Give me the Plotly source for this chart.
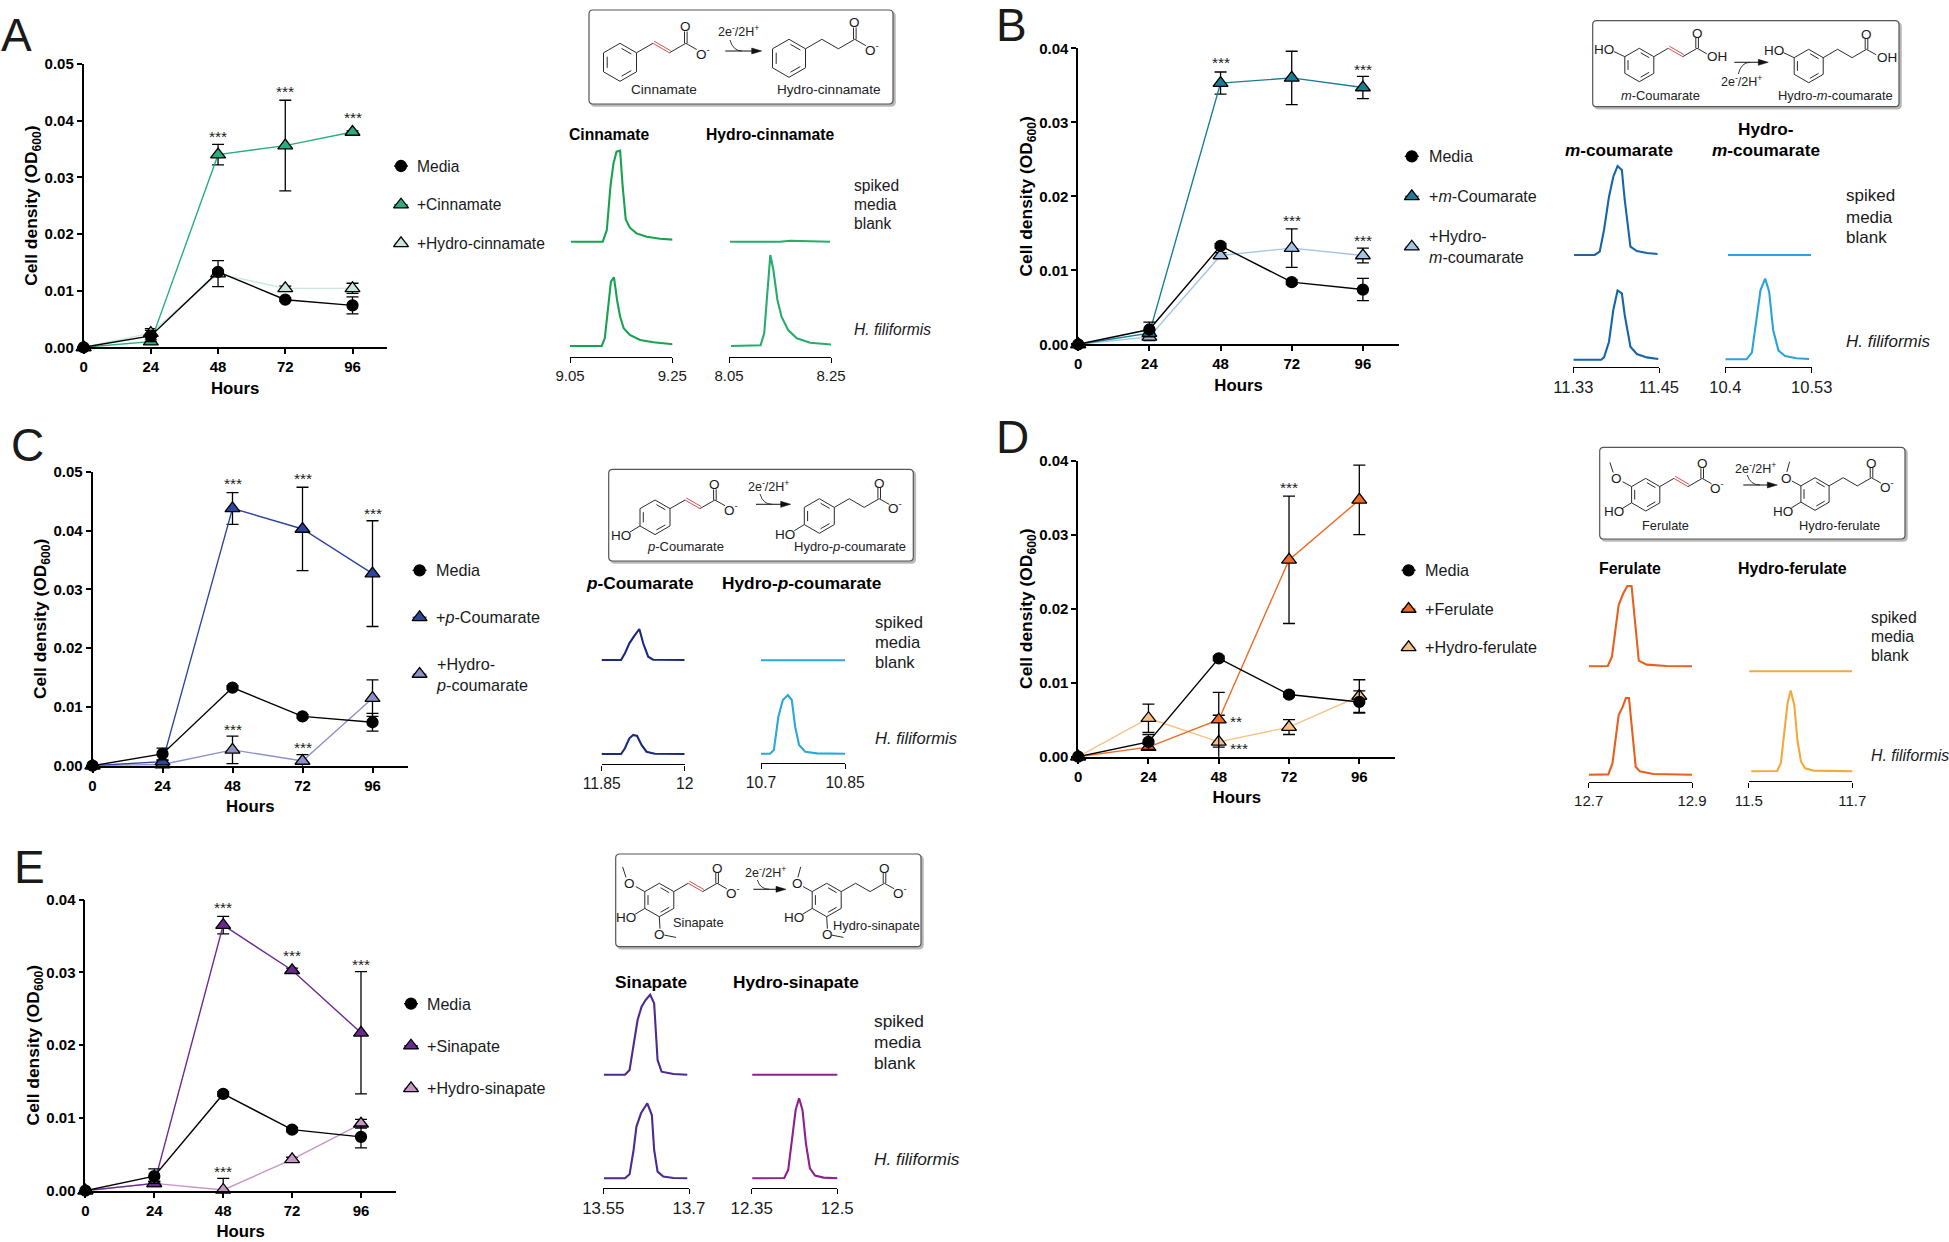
"""Growth curves and extracted-ion chromatograms for five hydroxycinnamate substrates."""

import math

import plotly.graph_objects as go

W, H = 1949, 1242
FONT = "Liberation Sans"
INK = "#1a1a1a"

HOURS = [0, 24, 48, 72, 96]
Y_TICKS_05 = [0.0, 0.01, 0.02, 0.03, 0.04, 0.05]
Y_TICKS_04 = [0.0, 0.01, 0.02, 0.03, 0.04]

MEDIA = [0.0, 0.002, 0.0133, 0.0084, 0.0074]
MEDIA_ERR = [0.0, 0.001, 0.0003, 0.0003, 0.0015]

CINNAMATE = [0.0, 0.001, 0.034, 0.0356, 0.038]
CINNAMATE_ERR = [0.0, 0.0003, 0.0018, 0.008, 0.0002]
HYDRO_CINNAMATE = [0.0, 0.0025, 0.013, 0.0104, 0.0104]
HYDRO_CINNAMATE_ERR = [0.0, 0.0008, 0.0023, 0.0004, 0.0009]

M_COUMARATE = [0.0, 0.0015, 0.0353, 0.036, 0.0347]
M_COUMARATE_ERR = [0.0, 0.0004, 0.0015, 0.0036, 0.0015]
HYDRO_M_COUMARATE = [0.0, 0.001, 0.012, 0.013, 0.012]
HYDRO_M_COUMARATE_ERR = [0.0, 0.0005, 0.0004, 0.0026, 0.001]

P_COUMARATE = [0.0, 0.0007, 0.0438, 0.0403, 0.0327]
P_COUMARATE_ERR = [0.0, 0.0002, 0.0027, 0.0071, 0.009]
HYDRO_P_COUMARATE = [0.0, 0.0002, 0.0027, 0.0008, 0.0115]
HYDRO_P_COUMARATE_ERR = [0.0, 0.0002, 0.00235, 0.0011, 0.0031]

FERULATE = [0.0, 0.0013, 0.005, 0.0266, 0.0347]
FERULATE_ERR = [0.0, 0.0004, 0.0037, 0.0086, 0.0047]
HYDRO_FERULATE = [0.0, 0.0052, 0.002, 0.004, 0.0082]
HYDRO_FERULATE_ERR = [0.0, 0.0019, 0.0036, 0.001, 0.0022]

SINAPATE = [0.0, 0.001, 0.0365, 0.0303, 0.0217]
SINAPATE_ERR = [0.0, 0.0003, 0.0012, 0.0003, 0.0084]
HYDRO_SINAPATE = [0.0, 0.001, 0.0001, 0.0043, 0.0092]
HYDRO_SINAPATE_ERR = [0.0, 0.0002, 0.0016, 0.0003, 0.0006]

# significance marks: hour, OD at the mark, label
STARS_A = [(48, 0.0374, "***"), (72, 0.0453, "***"), (96, 0.0407, "***")]
STARS_B = [(48, 0.0382, "***"), (72, 0.0407, "***"), (96, 0.0373, "***"), (72, 0.0169, "***"), (96, 0.0142, "***")]
STARS_C = [(48, 0.0482, "***"), (72, 0.049, "***"), (96, 0.0431, "***"), (48, 0.00636, "***"), (72, 0.0032, "***")]
STARS_D = [(96, 0.0406, "***"), (72, 0.0365, "***"), (54, 0.00495, "**"), (55, 0.0013, "***")]
STARS_E = [(48, 0.0391, "***"), (72, 0.0324, "***"), (96, 0.03125, "***"), (48, 0.00284, "***")]

# chromatograms: retention time (min) and peak height above baseline
A1_SPIKED_RT = [9.052, 9.114, 9.122, 9.129, 9.135, 9.141, 9.148, 9.153, 9.159, 9.167, 9.180, 9.200, 9.226, 9.254]
A1_SPIKED = [0, 0, 11.7, 55, 78.3, 90, 91, 55, 22.3, 14, 8.3, 5, 3, 2]
A1_HF_RT = [9.047, 9.112, 9.118, 9.125, 9.130, 9.136, 9.142, 9.148, 9.155, 9.167, 9.187, 9.213, 9.252]
A1_HF = [0, 0, 7.7, 39.3, 64.3, 68.7, 46, 29.3, 17.7, 11, 6, 3.7, 1.7]
A2_SPIKED_RT = [8.052, 8.098, 8.150, 8.170, 8.202, 8.248]
A2_SPIKED = [0, 0.3, 0, 1, 0.3, 0]
A2_HF_RT = [8.054, 8.112, 8.119, 8.125, 8.131, 8.137, 8.145, 8.153, 8.166, 8.183, 8.209, 8.253]
A2_HF = [0, 0.7, 12.7, 56, 91, 76, 46, 29.3, 16, 7.7, 3.3, 1.3]

B1_SPIKED_RT = [11.331, 11.360, 11.367, 11.373, 11.380, 11.386, 11.392, 11.398, 11.402, 11.410, 11.419, 11.433, 11.448]
B1_SPIKED = [0, 0, 3.3, 25, 58.3, 78.3, 89, 85, 55, 8.3, 4, 2, 1]
B1_HF_RT = [11.33, 11.369, 11.373, 11.380, 11.386, 11.392, 11.398, 11.402, 11.410, 11.419, 11.433, 11.449]
B1_HF = [0, 0, 2.3, 18, 49.7, 69.3, 66.3, 44.7, 13, 5.7, 2.3, 0.7]
B2_SPIKED_RT = [10.404, 10.465, 10.529]
B2_SPIKED = [0, 0, 0]
B2_HF_RT = [10.4, 10.432, 10.44, 10.447, 10.453, 10.46, 10.466, 10.472, 10.48, 10.49, 10.507, 10.526]
B2_HF = [0, 0, 6.7, 42.7, 69.3, 80.7, 67.7, 29.3, 8.7, 3.3, 1, 0.3]

C1_SPIKED_RT = [11.849, 11.885, 11.892, 11.9, 11.908, 11.918, 11.925, 11.934, 11.943, 12.0]
C1_SPIKED = [0, 0, 6.7, 16.7, 23.3, 31, 16.7, 3.3, 0.3, 0]
C1_HF_RT = [11.849, 11.885, 11.892, 11.9, 11.907, 11.914, 11.922, 11.931, 11.946, 12.0]
C1_HF = [0, 0, 5.7, 15.7, 19, 18, 9, 2.3, 0.3, 0]
C2_SPIKED_RT = [10.697, 10.77, 10.85]
C2_SPIKED = [0, 0, 0]
C2_HF_RT = [10.697, 10.716, 10.723, 10.731, 10.739, 10.748, 10.755, 10.761, 10.768, 10.779, 10.8, 10.85]
C2_HF = [0, 0, 3.7, 37, 53.7, 58.7, 53.7, 27, 8.7, 2, 0.3, 0]

D1_SPIKED_RT = [12.7, 12.737, 12.745, 12.751, 12.758, 12.767, 12.775, 12.783, 12.79, 12.797, 12.812, 12.851, 12.9]
D1_SPIKED = [0, 0.3, 9.7, 36.3, 61.3, 73, 80.3, 80.3, 39.7, 5.7, 1.7, 0.3, 0]
D1_HF_RT = [12.7, 12.738, 12.746, 12.752, 12.758, 12.766, 12.772, 12.778, 12.784, 12.791, 12.799, 12.825, 12.9]
D1_HF = [0, 0.3, 11.3, 34.7, 59.7, 68, 76.7, 76.7, 48, 8, 3.3, 0.7, 0]
D2_SPIKED_RT = [11.501, 11.6, 11.7]
D2_SPIKED = [0, 0, 0]
D2_HF_RT = [11.505, 11.555, 11.562, 11.569, 11.575, 11.581, 11.588, 11.594, 11.601, 11.609, 11.625, 11.702]
D2_HF = [0, 0.3, 8, 41.3, 68, 80.7, 66.3, 31.3, 9.7, 3, 0.7, 0]

E1_SPIKED_RT = [13.551, 13.588, 13.596, 13.603, 13.61, 13.617, 13.624, 13.632, 13.639, 13.645, 13.652, 13.673, 13.697]
E1_SPIKED = [0, 0, 4.7, 28, 54.7, 68, 74.7, 80, 71.3, 14.7, 3, 0.7, 0]
E1_HF_RT = [13.551, 13.588, 13.596, 13.603, 13.608, 13.616, 13.627, 13.635, 13.639, 13.645, 13.655, 13.673, 13.697]
E1_HF = [0, 0, 4, 28.3, 51.7, 65, 75, 63.3, 28.3, 6.7, 1.7, 0.3, 0]
E2_SPIKED_RT = [12.351, 12.425, 12.502]
E2_SPIKED = [0, 0, 0]
E2_HF_RT = [12.351, 12.407, 12.414, 12.42, 12.427, 12.433, 12.439, 12.445, 12.452, 12.461, 12.476, 12.501]
E2_HF = [0, 0.3, 8.3, 35, 68.3, 80, 68.3, 35, 10, 2.7, 0.7, 0]

PANELS = [
    dict(
        letter="A", letter_xy=(0, 35),
        axis=dict(x0=83.6, x96=352.5, x_end=386.8, y_top=64, y_zero=347.3, y_max=0.05, ticks=Y_TICKS_05),
        stars=STARS_A,
        hydro=(HYDRO_CINNAMATE, HYDRO_CINNAMATE_ERR, "#c9e7de"),
        main=(CINNAMATE, CINNAMATE_ERR, "#2bae7e"),
        key_x=401, key_ys=[166, 204.7, 243.3], label_x=416, legend_size=15.6,
        labels=["Media", "+Cinnamate", "+Hydro-cinnamate"],
        columns=[
            dict(title="Cinnamate", title_xy=(609, 134), span=(570, 672.3), bar_y=357, rng=(9.05, 9.25),
                 ticks=["9.05", "9.25"], color="#16a24f",
                 traces=[(A1_SPIKED_RT, A1_SPIKED, 241.7), (A1_HF_RT, A1_HF, 346)]),
            dict(title="Hydro-cinnamate", title_xy=(770, 134), span=(729, 831), bar_y=357, rng=(8.05, 8.25),
                 ticks=["8.05", "8.25"], color="#27ad6b",
                 traces=[(A2_SPIKED_RT, A2_SPIKED, 241.7), (A2_HF_RT, A2_HF, 346)]),
        ],
        header_size=15.7, tick_size=15, row_size=15.6,
        row_x=852.7, row_ys=[185, 204, 223], hf_y=329,
        box=(589, 10, 893, 104),
        mols=[dict(c=(620, 62.3), r=19, reduced=False, tail="O<sup>-</sup>", subs=[]),
              dict(c=(789, 58.3), r=19, reduced=True, tail="O<sup>-</sup>", subs=[])],
        names=[("Cinnamate", 664, 89), ("Hydro-cinnamate", 828.7, 89)], name_size=13.6,
        arrow=((725.3, 51), (761.7, 51), (730, 40), (742, 51)), arrow_text=(738, 31),
    ),
    dict(
        letter="B", letter_xy=(995, 25),
        axis=dict(x0=1078.2, x96=1362.9, x_end=1398.9, y_top=48.3, y_zero=344.3, y_max=0.04, ticks=Y_TICKS_04),
        stars=STARS_B,
        hydro=(HYDRO_M_COUMARATE, HYDRO_M_COUMARATE_ERR, "#a2c4e6"),
        main=(M_COUMARATE, M_COUMARATE_ERR, "#1a7d96"),
        key_x=1411.8, key_ys=[156.3, 196.3, 246.7], label_x=1427.5, legend_size=16.1,
        labels=["Media", "+<i>m</i>-Coumarate", "+Hydro-<br><i>m</i>-coumarate"],
        columns=[
            dict(title="<i>m</i>-coumarate", title_xy=(1619.3, 150.3), span=(1573.3, 1659), bar_y=366.7,
                 rng=(11.33, 11.45), ticks=["11.33", "11.45"], color="#1565a8",
                 traces=[(B1_SPIKED_RT, B1_SPIKED, 255), (B1_HF_RT, B1_HF, 359.7)]),
            dict(title="<i>m</i>-coumarate", title_xy=(1765.7, 150.3), span=(1725.3, 1811.7), bar_y=366.7,
                 rng=(10.4, 10.53), ticks=["10.4", "10.53"], color="#2aa3dc",
                 traces=[(B2_SPIKED_RT, B2_SPIKED, 255), (B2_HF_RT, B2_HF, 359.3)]),
        ],
        extra_header=("Hydro-", 1765.7, 129.3),
        header_size=17.2, tick_size=16.5, row_size=17,
        row_x=1844.7, row_ys=[195.7, 217, 237.7], hf_y=341.7,
        box=(1592.7, 20.7, 1899, 106.7),
        mols=[dict(c=(1639.3, 65), r=16.7, reduced=False, tail="OH", subs=["m_oh"]),
              dict(c=(1808.7, 66), r=16.7, reduced=True, tail="OH", subs=["m_oh"])],
        names=[("<i>m</i>-Coumarate", 1660.7, 95.7), ("Hydro-<i>m</i>-coumarate", 1835.7, 95.7)], name_size=12.9,
        arrow=((1734.3, 62.3), (1768.3, 62.3), (1738.3, 74), (1750, 62.3)), arrow_text=(1741.7, 81),
    ),
    dict(
        letter="C", letter_xy=(10, 445),
        axis=dict(x0=92.5, x96=372.5, x_end=408.2, y_top=472, y_zero=765.7, y_max=0.05, ticks=Y_TICKS_05),
        stars=STARS_C,
        hydro=(HYDRO_P_COUMARATE, HYDRO_P_COUMARATE_ERR, "#8e91c8"),
        main=(P_COUMARATE, P_COUMARATE_ERR, "#2e459f"),
        key_x=419.6, key_ys=[570.3, 617.3, 674], label_x=435, legend_size=16.2,
        labels=["Media", "+<i>p</i>-Coumarate", "+Hydro-<br><i>p</i>-coumarate"],
        columns=[
            dict(title="<i>p</i>-Coumarate", title_xy=(640.3, 583.3), span=(601.7, 684.7), bar_y=764.3,
                 rng=(11.85, 12.0), ticks=["11.85", "12"], color="#1c2a7e",
                 traces=[(C1_SPIKED_RT, C1_SPIKED, 660), (C1_HF_RT, C1_HF, 754)]),
            dict(title="Hydro-<i>p</i>-coumarate", title_xy=(802.3, 583.3), span=(761, 845), bar_y=762.7,
                 rng=(10.7, 10.85), ticks=["10.7", "10.85"], color="#2aa8dc",
                 traces=[(C2_SPIKED_RT, C2_SPIKED, 660.3), (C2_HF_RT, C2_HF, 753.7)]),
        ],
        header_size=17.3, tick_size=15.7, row_size=16.6,
        row_x=874.3, row_ys=[622, 642, 662.3], hf_y=738.7,
        box=(608.7, 469.3, 913.3, 561),
        mols=[dict(c=(655, 517.3), r=17.3, reduced=False, tail="O<sup>-</sup>", subs=["p_oh"]),
              dict(c=(819.3, 516), r=17.3, reduced=True, tail="O<sup>-</sup>", subs=["p_oh"])],
        names=[("<i>p</i>-Coumarate", 685.7, 546.7), ("Hydro-<i>p</i>-coumarate", 850, 546.7)], name_size=13,
        arrow=((756, 504.3), (790.7, 504.3), (760, 494), (772, 504.3)), arrow_text=(768.3, 486),
    ),
    dict(
        letter="D", letter_xy=(995, 437),
        axis=dict(x0=1078.2, x96=1359.3, x_end=1395.4, y_top=460.7, y_zero=756.7, y_max=0.04, ticks=Y_TICKS_04),
        stars=STARS_D,
        hydro=(HYDRO_FERULATE, HYDRO_FERULATE_ERR, "#f8c184"),
        main=(FERULATE, FERULATE_ERR, "#ee6a25"),
        key_x=1408.6, key_ys=[570.3, 609, 647.3], label_x=1424.3, legend_size=16.2,
        labels=["Media", "+Ferulate", "+Hydro-ferulate"],
        columns=[
            dict(title="Ferulate", title_xy=(1630, 568.7), span=(1588.7, 1692), bar_y=781.7,
                 rng=(12.7, 12.9), ticks=["12.7", "12.9"], color="#e8601c",
                 traces=[(D1_SPIKED_RT, D1_SPIKED, 666.3), (D1_HF_RT, D1_HF, 774.7)]),
            dict(title="Hydro-ferulate", title_xy=(1792.3, 568.7), span=(1748.7, 1852.3), bar_y=781.3,
                 rng=(11.5, 11.7), ticks=["11.5", "11.7"], color="#f3a93c",
                 traces=[(D2_SPIKED_RT, D2_SPIKED, 671.3), (D2_HF_RT, D2_HF, 771.3)]),
        ],
        header_size=15.9, tick_size=15, row_size=15.8,
        row_x=1870, row_ys=[617, 636.3, 655.7], hf_y=755.7,
        box=(1599.7, 447.3, 1905, 539),
        mols=[dict(c=(1645.7, 494.7), r=16.3, reduced=False, tail="O<sup>-</sup>", subs=["p_oh", "ome_l"]),
              dict(c=(1815, 494), r=16.3, reduced=True, tail="O<sup>-</sup>", subs=["p_oh", "ome_r"])],
        names=[("Ferulate", 1665.7, 525), ("Hydro-ferulate", 1839.3, 525)], name_size=12.8,
        arrow=((1743.3, 485), (1777.3, 485), (1747.3, 475), (1760, 485)), arrow_text=(1755, 467.7),
    ),
    dict(
        letter="E", letter_xy=(13, 867),
        axis=dict(x0=85.4, x96=361, x_end=396, y_top=899.7, y_zero=1190.7, y_max=0.04, ticks=Y_TICKS_04),
        stars=STARS_E,
        hydro=(HYDRO_SINAPATE, HYDRO_SINAPATE_ERR, "#c795c8"),
        main=(SINAPATE, SINAPATE_ERR, "#6a2a8e"),
        key_x=411, key_ys=[1003.7, 1045.7, 1088.3], label_x=426.4, legend_size=16.1,
        labels=["Media", "+Sinapate", "+Hydro-sinapate"],
        columns=[
            dict(title="Sinapate", title_xy=(650.7, 981.7), span=(603.3, 689), bar_y=1187.7,
                 rng=(13.55, 13.7), ticks=["13.55", "13.7"], color="#4b2a91",
                 traces=[(E1_SPIKED_RT, E1_SPIKED, 1074.7), (E1_HF_RT, E1_HF, 1178.3)]),
            dict(title="Hydro-sinapate", title_xy=(796, 981.7), span=(751.7, 837.3), bar_y=1187.7,
                 rng=(12.35, 12.5), ticks=["12.35", "12.5"], color="#8f1f8f",
                 traces=[(E2_SPIKED_RT, E2_SPIKED, 1074.7), (E2_HF_RT, E2_HF, 1178.3)]),
        ],
        header_size=17.3, tick_size=16.9, row_size=17.3,
        row_x=873.3, row_ys=[1021, 1042, 1062.7], hf_y=1159,
        box=(615.7, 854, 921, 946.7),
        mols=[dict(c=(659.3, 900), r=16.7, reduced=False, tail="O<sup>-</sup>", subs=["p_oh", "ome_l", "ome_b"]),
              dict(c=(826.7, 900), r=16.7, reduced=True, tail="O<sup>-</sup>", subs=["p_oh", "ome_r", "ome_b"])],
        names=[("Sinapate", 698.3, 922.3), ("Hydro-sinapate", 876.7, 925)], name_size=12.8,
        arrow=((753.3, 889.3), (786, 889.3), (757.3, 880), (769.3, 889.3)), arrow_text=(765, 872.3),
    ),
]

PIX_X, PIX_Y = "x16", "y16"

fig = go.Figure()
annotations = []
shapes = []


def note(text, x, y, size, anchor="center", color=INK, weight=None, style=None):
    font = dict(family=FONT, size=size, color=color)
    if weight:
        font["weight"] = weight
    if style:
        font["style"] = style
    annotations.append(dict(
        text=text, x=x, y=y, xref=PIX_X, yref=PIX_Y, xanchor=anchor, yanchor="middle", showarrow=False,
        align=anchor, font=font, borderpad=0,
    ))


def seg(p, q):
    return f"M{p[0]:.1f},{p[1]:.1f}L{q[0]:.1f},{q[1]:.1f}"


def add_path(d, color="#2b2b2b", width=1.0, fill=None):
    shapes.append(dict(
        type="path", path=d, xref=PIX_X, yref=PIX_Y, layer="above",
        line=dict(color=color, width=width), fillcolor=fill or "rgba(0,0,0,0)",
    ))


def rounded_box(x0, y0, x1, y1, rad=4):
    return (f"M{x0 + rad},{y0}L{x1 - rad},{y0}Q{x1},{y0} {x1},{y0 + rad}L{x1},{y1 - rad}Q{x1},{y1} {x1 - rad},{y1}"
            f"L{x0 + rad},{y1}Q{x0},{y1} {x0},{y1 - rad}L{x0},{y0 + rad}Q{x0},{y0} {x0 + rad},{y0}Z")


def draw_molecule(c, r, reduced, tail, subs):
    """Skeletal formula: phenyl ring, propanoate tail, ring substituents."""
    cx, cy = c
    verts = [(cx + r * math.cos(math.radians(a)), cy - r * math.sin(math.radians(a)))
             for a in (30, 90, 150, 210, 270, 330)]
    d = "".join(seg(verts[i], verts[(i + 1) % 6]) for i in range(6))
    for i, j in ((0, 1), (2, 3), (4, 5)):
        a = (cx + (verts[i][0] - cx) * 0.78, cy + (verts[i][1] - cy) * 0.78)
        b = (cx + (verts[j][0] - cx) * 0.78, cy + (verts[j][1] - cy) * 0.78)
        a2 = (a[0] + (b[0] - a[0]) * 0.12, a[1] + (b[1] - a[1]) * 0.12)
        b2 = (b[0] - (b[0] - a[0]) * 0.12, b[1] - (b[1] - a[1]) * 0.12)
        d += seg(a2, b2)

    dx, dy = 0.866 * r, 0.5 * r
    p0 = verts[0]
    p1 = (p0[0] + dx, p0[1] - dy)
    p2 = (p1[0] + dx, p1[1] + dy)
    p3 = (p2[0] + dx, p2[1] - dy)
    d += seg(p0, p1) + seg(p2, p3)
    if reduced:
        d += seg(p1, p2)
    else:
        red = seg(p1, p2) + seg((p1[0] + 1.2, p1[1] - 2.1), (p2[0] + 1.2, p2[1] - 2.1))
        add_path(red, color="#d8504e", width=1.0)
    for off in (-1.3, 1.3):
        d += seg((p3[0] + off, p3[1]), (p3[0] + off, p3[1] - 0.62 * r))
    d += seg(p3, (p3[0] + 0.58 * r, p3[1] + 0.33 * r))
    note("O", p3[0], p3[1] - 0.9 * r, 13.5)
    note(tail, p3[0] + (1.2 if tail == "OH" else 0.93) * r, p3[1] + 0.5 * r, 13.5)

    for sub in subs:
        if sub == "p_oh":
            v = verts[3]
            d += seg(v, (v[0] - 0.58 * r, v[1] + 0.35 * r))
            note("HO", v[0] - 1.1 * r, v[1] + 0.56 * r, 13.5)
        elif sub == "m_oh":
            v = verts[2]
            d += seg(v, (v[0] - 0.65 * r, v[1] - 0.3 * r))
            note("HO", v[0] - 1.23 * r, v[1] - 0.44 * r, 13.5)
        elif sub in ("ome_l", "ome_r"):
            v = verts[2]
            ox, oy = v[0] - 0.91 * r, v[1] - 0.48 * r
            d += seg(v, (v[0] - 0.55 * r, v[1] - 0.3 * r))
            if sub == "ome_l":
                d += seg((ox - 0.22 * r, oy - 0.38 * r), (ox - 0.42 * r, oy - 1.0 * r))
            else:
                d += seg((ox + 0.05 * r, oy - 0.38 * r), (ox + 0.22 * r, oy - 1.0 * r))
            note("O", ox, oy, 13.5)
        elif sub == "ome_b":
            v = verts[4]
            ox, oy = v[0] + 0.04 * r, v[1] + 1.04 * r
            d += seg(v, (v[0] + 0.04 * r, v[1] + 0.72 * r))
            d += seg((ox + 0.26 * r, oy + 0.06 * r), (ox + 0.96 * r, oy + 0.2 * r))
            note("O", ox, oy, 13.5)
    add_path(d)


axis_no = 0
layout_axes = {}

for panel in PANELS:
    # growth curve axes
    axis_no += 1
    g = panel["axis"]
    xa, ya = f"x{axis_no}", f"y{axis_no}"
    x_max = 96 * (g["x_end"] - g["x0"]) / (g["x96"] - g["x0"])
    layout_axes[f"xaxis{axis_no}"] = dict(
        domain=[g["x0"] / W, g["x_end"] / W], range=[0, x_max], anchor=ya,
        tickmode="array", tickvals=HOURS, ticktext=[str(h) for h in HOURS],
        showline=True, linecolor="black", linewidth=1.7, ticks="outside", ticklen=5, tickwidth=1.7, tickcolor="black",
        showgrid=False, zeroline=False, tickfont=dict(family=FONT, size=15, weight=700, color="black"),
        title=dict(text="Hours", font=dict(family=FONT, size=16.8, weight=700, color="black"), standoff=8),
    )
    layout_axes[f"yaxis{axis_no}"] = dict(
        domain=[1 - g["y_zero"] / H, 1 - g["y_top"] / H], range=[0, g["y_max"]], anchor=xa,
        tickmode="array", tickvals=g["ticks"], ticktext=[f"{t:.2f}" for t in g["ticks"]],
        showline=True, linecolor="black", linewidth=1.7, ticks="outside", ticklen=5, tickwidth=1.7, tickcolor="black",
        showgrid=False, zeroline=False, tickfont=dict(family=FONT, size=15, weight=700, color="black"),
        title=dict(text="Cell density (OD<sub>600</sub>)", font=dict(family=FONT, size=17.4, weight=700, color="black"),
                   standoff=2),
    )

    series = [
        (panel["labels"][2], *panel["hydro"], "triangle-up"),
        (panel["labels"][1], *panel["main"], "triangle-up"),
        (panel["labels"][0], MEDIA, MEDIA_ERR, "black", "circle"),
    ]
    for name, values, err, color, symbol in series:
        fig.add_trace(go.Scatter(
            x=HOURS, y=values, mode="lines+markers", name=name.replace("<br>", " "), xaxis=xa, yaxis=ya,
            cliponaxis=False, line=dict(color=color, width=1.4),
            marker=dict(symbol=symbol, size=11 if symbol == "circle" else 13, color=color,
                        line=dict(color="black", width=1.3)),
            error_y=dict(type="data", array=err, visible=True, color="black", thickness=1.3, width=6),
            showlegend=False,
        ))

    for hour, value, label in panel["stars"]:
        annotations.append(dict(
            text=label, x=hour, y=value, xref=xa, yref=ya, xanchor="center", yanchor="middle", showarrow=False,
            yshift=-1, font=dict(family=FONT, size=15.5, color=INK),
        ))

    # hand-placed legend: short key stub plus marker, then the label
    key_styles = [("black", "circle", 11), (panel["main"][2], "triangle-up", 13), (panel["hydro"][2], "triangle-up", 13)]
    for (color, symbol, size), ky, label in zip(key_styles, panel["key_ys"], panel["labels"]):
        fig.add_trace(go.Scatter(
            x=[panel["key_x"] - 7, panel["key_x"] + 7], y=[ky, ky], mode="lines", xaxis=PIX_X, yaxis=PIX_Y,
            line=dict(color=color, width=1.4), showlegend=False, hoverinfo="skip",
        ))
        fig.add_trace(go.Scatter(
            x=[panel["key_x"]], y=[ky], mode="markers", xaxis=PIX_X, yaxis=PIX_Y, showlegend=False, hoverinfo="skip",
            marker=dict(symbol=symbol, size=size, color=color, line=dict(color="black", width=1.3)),
        ))
        note(label, panel["label_x"], ky, panel["legend_size"], anchor="left")

    note(panel["letter"], *panel["letter_xy"], 46, anchor="left")

    # chromatogram columns: y axis runs 1 unit per pixel above the scale bar
    for col in panel["columns"]:
        axis_no += 1
        xa, ya = f"x{axis_no}", f"y{axis_no}"
        tall = 250
        layout_axes[f"xaxis{axis_no}"] = dict(
            domain=[col["span"][0] / W, col["span"][1] / W], range=list(col["rng"]), anchor=ya,
            tickmode="array", tickvals=list(col["rng"]), ticktext=col["ticks"],
            showline=True, linecolor="black", linewidth=1.4, ticks="outside", ticklen=5, tickwidth=1.4,
            tickcolor="black", showgrid=False, zeroline=False,
            tickfont=dict(family=FONT, size=panel["tick_size"], color=INK),
        )
        layout_axes[f"yaxis{axis_no}"] = dict(
            domain=[1 - col["bar_y"] / H, 1 - (col["bar_y"] - tall) / H], range=[0, tall], anchor=xa,
            visible=False,
        )
        for rt, height, baseline in col["traces"]:
            fig.add_trace(go.Scatter(
                x=rt, y=[h + col["bar_y"] - baseline for h in height], mode="lines", xaxis=xa, yaxis=ya,
                cliponaxis=False, line=dict(color=col["color"], width=2.1), showlegend=False,
            ))
        note(col["title"], *col["title_xy"], panel["header_size"], color="black", weight=700)

    if "extra_header" in panel:
        text, ex, ey = panel["extra_header"]
        note(text, ex, ey, panel["header_size"], color="black", weight=700)

    for word, ry in zip(("spiked", "media", "blank"), panel["row_ys"]):
        note(word, panel["row_x"], ry, panel["row_size"], anchor="left")
    note("H. filiformis", panel["row_x"], panel["hf_y"], panel["row_size"], anchor="left", style="italic")

    # reaction scheme box
    bx0, by0, bx1, by1 = panel["box"]
    add_path(rounded_box(bx0 + 2, by0 + 2, bx1 + 2, by1 + 2), color="#b9b9b9", width=1.6, fill="#b9b9b9")
    add_path(rounded_box(bx0, by0, bx1, by1), color="#555555", width=1.2, fill="white")
    for mol in panel["mols"]:
        draw_molecule(mol["c"], mol["r"], mol["reduced"], mol["tail"], mol["subs"])
    for text, nx, ny in panel["names"]:
        note(text, nx, ny, panel["name_size"], color="#222222")
    start, end, c0, c1 = panel["arrow"]
    add_path(seg(start, (end[0] - 8, end[1])), color="#222222", width=1.1)
    add_path(f"M{end[0] - 10},{end[1] - 3}L{end[0]},{end[1]}L{end[0] - 10},{end[1] + 3}Z", color="#111111", width=0.5,
             fill="#111111")
    add_path(f"M{c0[0]},{c0[1]}Q{c0[0] + 3},{c1[1]} {c1[0]},{c1[1]}", color="#222222", width=0.9)
    note("2e<sup>-</sup>/2H<sup>+</sup>", *panel["arrow_text"], 12.5, color="#222222")

# full-page axes in picture pixels, used to place the legends, schemes and labels
layout_axes["xaxis16"] = dict(domain=[0, 1], range=[0, W], anchor="y16", visible=False)
layout_axes["yaxis16"] = dict(domain=[0, 1], range=[H, 0], anchor="x16", visible=False)

fig.update_layout(
    template="none", width=W, height=H, margin=dict(l=0, r=0, t=0, b=0), showlegend=False,
    paper_bgcolor="white", plot_bgcolor="rgba(0,0,0,0)", annotations=annotations, shapes=shapes,
    font=dict(family=FONT, color=INK), **layout_axes,
)

fig.write_html("out.html", config={"displayModeBar": False}, post_script="document.body.style.margin='0';")
